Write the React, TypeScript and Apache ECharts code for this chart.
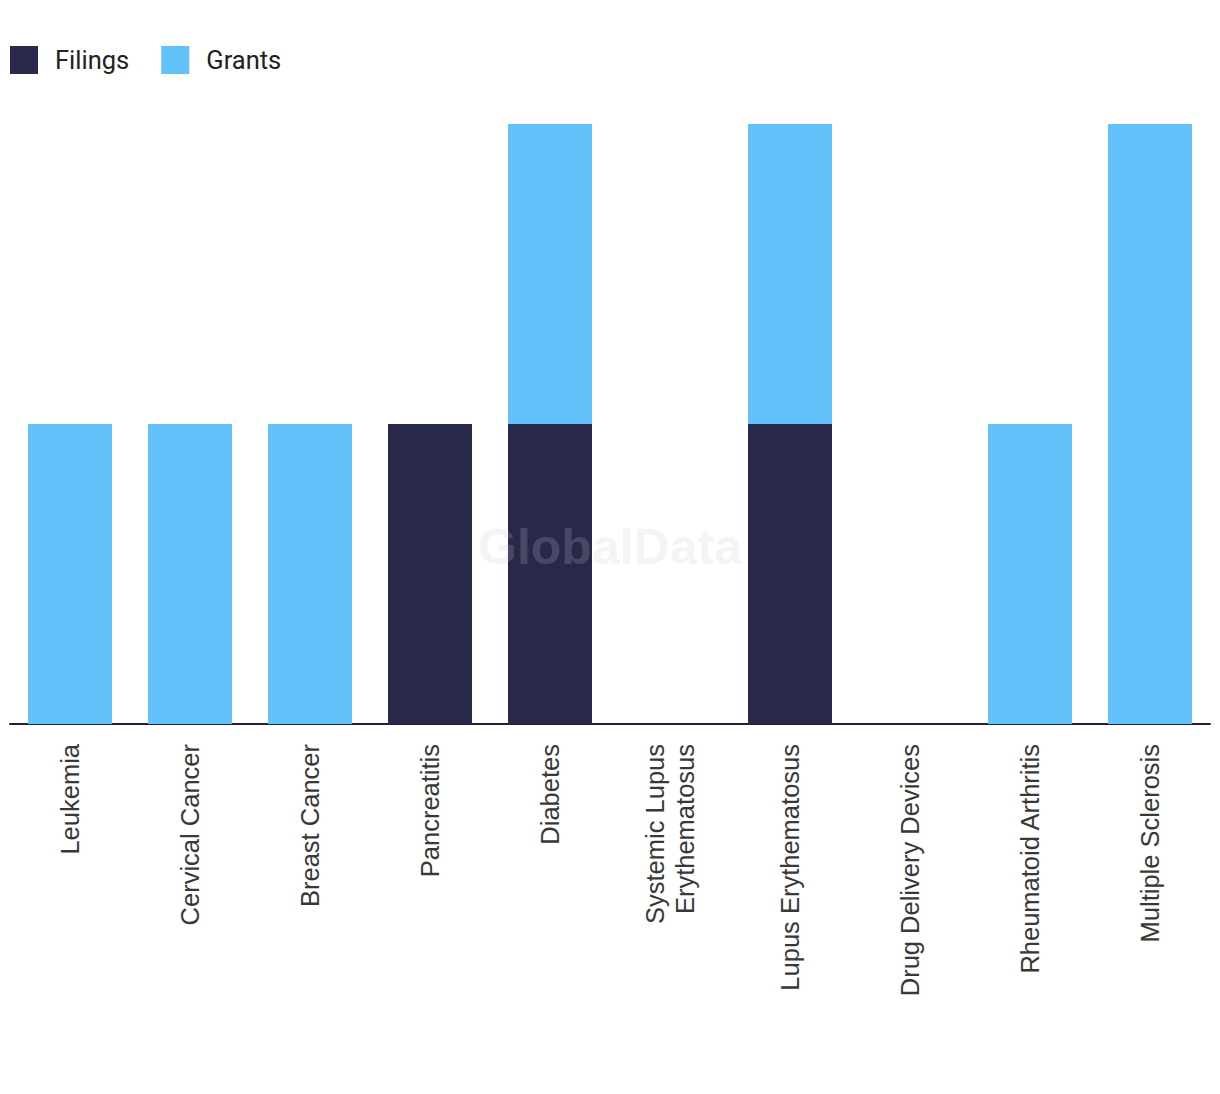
import React, { useEffect, useRef } from "react";
import * as echarts from "echarts";

const categories = [
  "Leukemia",
  "Cervical Cancer",
  "Breast Cancer",
  "Pancreatitis",
  "Diabetes",
  "Systemic Lupus\nErythematosus",
  "Lupus Erythematosus",
  "Drug Delivery Devices",
  "Rheumatoid Arthritis",
  "Multiple Sclerosis",
];
const filings = [0, 0, 0, 1, 1, 0, 1, 0, 0, 0];
const grants = [1, 1, 1, 0, 1, 0, 1, 0, 1, 2];

export default function App() {
  const ref = useRef<HTMLDivElement>(null);
  useEffect(() => {
    document.body.style.margin = "0";
    const chart = echarts.init(ref.current!, null, { renderer: "svg" });
    chart.setOption({
      animation: false,
      textStyle: { fontFamily: "Liberation Sans, Arial, sans-serif" },
      legend: {
        left: 10,
        top: 46,
        padding: 0,
        itemWidth: 28,
        itemHeight: 28,
        itemGap: 32,
        icon: "rect",
        textStyle: { fontSize: 25.5, color: "#222", padding: [0, 0, 4, 12], fontFamily: "Roboto, sans-serif" },
        data: ["Filings", "Grants"],
      },
      grid: { left: 10, right: 10, top: 124, bottom: 370, containLabel: false },
      xAxis: {
        type: "category",
        data: categories,
        axisLine: { lineStyle: { color: "#1e1f3a", width: 2 } },
        axisTick: { show: false },
        axisLabel: {
          rotate: 90,
          fontSize: 25.5,
          color: "#383838",
          margin: 20,
          interval: 0,
          lineHeight: 30,
        },
      },
      yAxis: {
        type: "value",
        min: 0,
        max: 2,
        show: false,
        splitLine: { show: false },
      },
      graphic: [
        {
          type: "text",
          left: "center",
          top: 522,
          z: 100,
          style: {
            text: "GlobalData",
            fontSize: 50,
            fontWeight: "bold",
            fill: "#c8c8d0",
            opacity: 0.2,
            fontFamily: "Liberation Sans, Arial, sans-serif",
          },
        },
      ],
      series: [
        {
          name: "Filings",
          type: "bar",
          stack: "total",
          barWidth: 84,
          data: filings,
          itemStyle: { color: "#28284a" },
        },
        {
          name: "Grants",
          type: "bar",
          stack: "total",
          barWidth: 84,
          data: grants,
          itemStyle: { color: "#62c1f9" },
        },
      ],
    });
    return () => chart.dispose();
  }, []);
  return <div ref={ref} style={{ width: 1220, height: 1094 }} />;
}
